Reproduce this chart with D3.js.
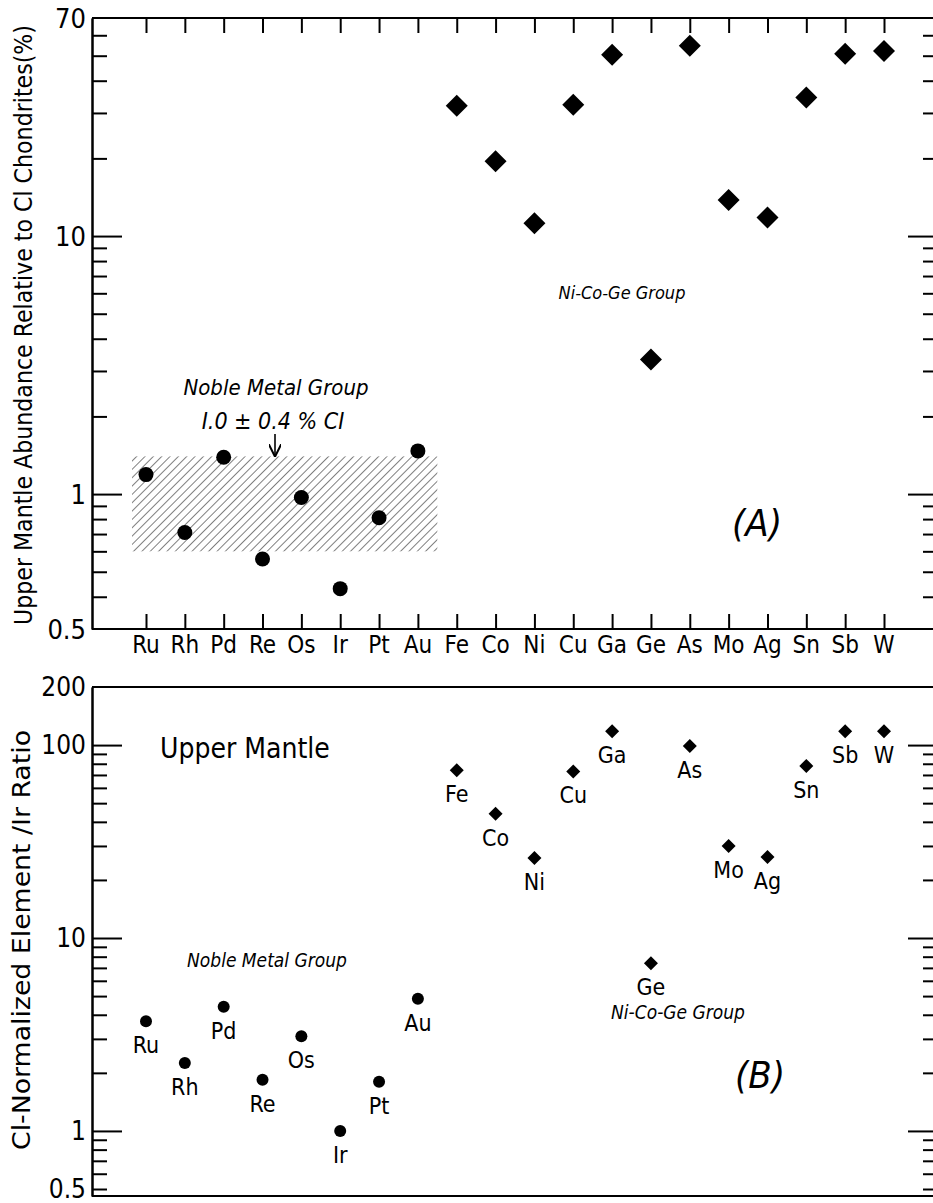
<!DOCTYPE html>
<html><head><meta charset="utf-8">
<script src="https://cdn.jsdelivr.net/npm/d3@7"></script>
<style>body{margin:0;background:#fff} svg{display:block}</style>
</head><body><svg id="c" width="933" height="1203"></svg>
<script>
// ---------- data ----------
const elements = ["Ru","Rh","Pd","Re","Os","Ir","Pt","Au","Fe","Co","Ni","Cu","Ga","Ge","As","Mo","Ag","Sn","Sb","W"];
const nobleMetals = ["Ru","Rh","Pd","Re","Os","Ir","Pt","Au"];
const nobleAbundance = [1.19,0.71,1.39,0.56,0.97,0.43,0.81,1.47];
const niCoGe = ["Fe","Co","Ni","Cu","Ga","Ge","As","Mo","Ag","Sn","Sb","W"];
const niCoGeAbundance = [32,19.5,11.2,32.3,50.4,3.32,54.6,13.8,11.8,34.4,50.9,52.2];
const nobleIrRatio = [3.7,2.25,4.4,1.84,3.1,1.0,1.8,4.85];
const niCoGeIrRatio = [74,44,26,73,118,7.4,99,30,26.3,78,118,118];
const nobleBand = [0.6,1.4];
const yAMajor = [10,1];
const yAMinor = [60,50,40,30,20,9,8,7,6,5,4,3,2,0.9,0.8,0.7,0.6,0.5,0.4];
const yALabelText = ["70","10","1","0.5"];
const yBMajor = [100,10,1];
const yBMinor = [90,80,70,60,50,40,30,20,9,8,7,6,5,4,3,2,0.9,0.8,0.7,0.6,0.5];
const yBLabelText = ["200","100","10","1","0.5"];

// ---------- layout ----------
const FONT = '"DejaVu Sans Condensed","DejaVu Sans",sans-serif';
const svg = d3.select("#c");
const L = 92, R = 938;
const x = d3.scalePoint().domain(elements).range([146,884]);
const yA = d3.scaleLog().domain([0.3,70]).range([629,18]);
const yB = d3.scaleLog().domain([0.46,200]).range([1196,687]);
const yALabelVals = [70,10,1,yA.domain()[0]];
const yBLabelVals = [200,100,10,1,0.5];

// hatch pattern
const defs = svg.append("defs");
const pat = defs.append("pattern").attr("id","hatch").attr("patternUnits","userSpaceOnUse")
  .attr("width",5.9).attr("height",5.9).attr("patternTransform","rotate(45)");
pat.append("line").attr("x1",0).attr("y1",0).attr("x2",0).attr("y2",5.9)
  .attr("stroke","#000").attr("stroke-width",1);
defs.append("marker").attr("id","arr").attr("viewBox","0 0 10 10").attr("refX",9).attr("refY",5)
  .attr("markerWidth",8).attr("markerHeight",8).attr("orient","auto")
  .append("path").attr("d","M0,0 L10,5 L0,10").attr("fill","none").attr("stroke","#000").attr("stroke-width",1.6);

function styleAxis(g){
  g.selectAll("path.domain").attr("stroke","#000").attr("stroke-width",2);
  g.selectAll(".tick line").attr("stroke","#000").attr("stroke-width",2);
  g.selectAll(".tick text").remove();
}
function yAxes(y, major, minor, top, bottom){
  [[d3.axisLeft, L],[d3.axisRight, R]].forEach(([ax,pos])=>{
    svg.append("g").attr("transform",`translate(${pos},0)`)
      .call(ax(y).tickValues(minor).tickSize(-15).tickSizeOuter(0).tickFormat(""))
      .call(styleAxis);
    svg.append("g").attr("transform",`translate(${pos},0)`)
      .call(ax(y).tickValues(major).tickSize(-30).tickSizeOuter(0).tickFormat(""))
      .call(styleAxis);
  });
  svg.append("line").attr("x1",L).attr("x2",R).attr("y1",top).attr("y2",top).attr("stroke","#000").attr("stroke-width",2);
  svg.append("line").attr("x1",L).attr("x2",R).attr("y1",bottom).attr("y2",bottom).attr("stroke","#000").attr("stroke-width",2);
}

// ---------- Panel A ----------
yAxes(yA, yAMajor, yAMinor, 18, 629);
svg.append("g").attr("transform","translate(0,18)")
  .call(d3.axisTop(x).tickSize(-15).tickSizeOuter(0)).call(styleAxis)
  .select("path.domain").remove();
svg.append("g").attr("transform","translate(0,629)")
  .call(d3.axisBottom(x).tickSize(-15).tickSizeOuter(0)).call(styleAxis)
  .select("path.domain").remove();

svg.append("g").selectAll("text").data(yALabelVals).join("text")
  .attr("x",86).attr("y",d=>yA(d)).attr("dy","0.36em").attr("text-anchor","end")
  .attr("font-family",FONT).attr("font-size",27).text((d,i)=>yALabelText[i]);
svg.append("g").selectAll("text").data(elements).join("text")
  .attr("x",d=>x(d)).attr("y",653).attr("text-anchor","middle")
  .attr("font-family",FONT).attr("font-size",24).text(d=>d);

const step = x.step();
svg.append("rect").attr("x",x("Ru")-0.36*step).attr("width",x("Au")-x("Ru")+0.86*step)
  .attr("y",yA(nobleBand[1])).attr("height",yA(nobleBand[0])-yA(nobleBand[1]))
  .attr("fill","url(#hatch)");

svg.append("g").selectAll("circle").data(nobleMetals).join("circle")
  .attr("cx",d=>x(d)).attr("cy",(d,i)=>yA(nobleAbundance[i])).attr("r",7.5).attr("fill","#000");
const dA = 11;
svg.append("g").selectAll("path").data(niCoGe).join("path")
  .attr("transform",(d,i)=>`translate(${x(d)},${yA(niCoGeAbundance[i])})`)
  .attr("d",`M0,${-dA}L${dA},0L0,${dA}L${-dA},0Z`).attr("fill","#000");

svg.append("text").attr("x",276).attr("y",395).attr("text-anchor","middle")
  .attr("font-family",FONT).attr("font-style","italic").attr("font-size",22).text("Noble Metal Group");
svg.append("text").attr("x",273).attr("y",429).attr("text-anchor","middle")
  .attr("font-family",FONT).attr("font-style","italic").attr("font-size",23).text("I.0 ± 0.4 % CI");
svg.append("line").attr("x1",275).attr("x2",275).attr("y1",434).attr("y2",yA(nobleBand[1])-1)
  .attr("stroke","#000").attr("stroke-width",1.6).attr("marker-end","url(#arr)");
svg.append("text").attr("x",622).attr("y",299).attr("text-anchor","middle")
  .attr("font-family",FONT).attr("font-style","italic").attr("font-size",18).text("Ni-Co-Ge Group");
svg.append("text").attr("x",757).attr("y",536).attr("text-anchor","middle")
  .attr("font-family",FONT).attr("font-style","italic").attr("font-size",38).attr("font-weight",200).text("(A)");
svg.append("text").attr("transform","translate(32,325) rotate(-90)").attr("text-anchor","middle")
  .attr("font-family",FONT).attr("font-size",25).attr("textLength",600).attr("lengthAdjust","spacingAndGlyphs")
  .text("Upper Mantle Abundance Relative to Cl Chondrites(%)");

// ---------- Panel B ----------
yAxes(yB, yBMajor, yBMinor, 687, 1196);
svg.append("g").selectAll("text").data(yBLabelVals).join("text")
  .attr("x",86).attr("y",d=>yB(d)).attr("dy","0.33em").attr("text-anchor","end")
  .attr("font-family",FONT).attr("font-size",26).text((d,i)=>yBLabelText[i]);

svg.append("g").selectAll("circle").data(nobleMetals).join("circle")
  .attr("cx",d=>x(d)).attr("cy",(d,i)=>yB(nobleIrRatio[i])).attr("r",6).attr("fill","#000");
const dB = 7;
svg.append("g").selectAll("path").data(niCoGe).join("path")
  .attr("transform",(d,i)=>`translate(${x(d)},${yB(niCoGeIrRatio[i])})`)
  .attr("d",`M0,${-dB}L${dB},0L0,${dB}L${-dB},0Z`).attr("fill","#000");
const allB = nobleMetals.map((e,i)=>({e,v:nobleIrRatio[i]})).concat(niCoGe.map((e,i)=>({e,v:niCoGeIrRatio[i]})));
svg.append("g").selectAll("text").data(allB).join("text")
  .attr("x",d=>x(d.e)).attr("y",d=>yB(d.v)+32).attr("text-anchor","middle")
  .attr("font-family",FONT).attr("font-size",23).text(d=>d.e);

svg.append("text").attr("x",160).attr("y",758)
  .attr("font-family",FONT).attr("font-size",28).text("Upper Mantle");
svg.append("text").attr("x",267).attr("y",967).attr("text-anchor","middle")
  .attr("font-family",FONT).attr("font-style","italic").attr("font-size",19).text("Noble Metal Group");
svg.append("text").attr("x",678).attr("y",1019).attr("text-anchor","middle")
  .attr("font-family",FONT).attr("font-style","italic").attr("font-size",19).text("Ni-Co-Ge Group");
svg.append("text").attr("x",760).attr("y",1088).attr("text-anchor","middle")
  .attr("font-family",FONT).attr("font-style","italic").attr("font-size",38).attr("font-weight",200).text("(B)");
svg.append("text").attr("transform","translate(30,940) rotate(-90)").attr("text-anchor","middle")
  .attr("font-family",FONT).attr("font-size",24).attr("textLength",420).attr("lengthAdjust","spacingAndGlyphs")
  .text("Cl-Normalized Element /Ir Ratio");
</script></body></html>
